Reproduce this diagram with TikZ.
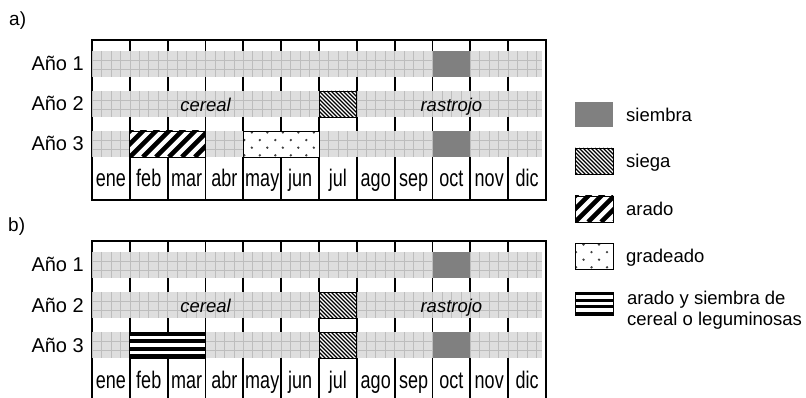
\documentclass[tikz,border=0pt]{standalone}
\usepackage{fontspec}
\setmainfont{Liberation Sans}
\usepackage{graphicx}
\def\mw{37.833}
\tikzset{
  boxline/.style={line width=2pt, draw=black},
  monthline/.style={line width=1.8pt, draw=black},
  bandfill/.style={fill=black!13},
  gridline/.style={draw=black!26, line width=0.6pt},
  actborder/.style={draw=black, line width=0.9pt},
  sowfill/.style={fill=black!50},
  dotcol/.style={fill=black!75},
  yearlbl/.style={anchor=base east, font=\fontsize{20}{24}\selectfont, inner sep=0pt},
  monthlbl/.style={anchor=base, font=\fontsize{24}{28}\selectfont, inner sep=0pt},
  croplbl/.style={anchor=base, font=\fontsize{18.5}{22}\selectfont\itshape, inner sep=0pt},
  leglbl/.style={anchor=base west, font=\fontsize{18.5}{21.5}\selectfont, inner sep=0pt, align=left},
  panellbl/.style={anchor=base west, font=\fontsize{19}{22}\selectfont, inner sep=0pt},
}
% gray week band
\newcommand\band[1]{%
  \fill[bandfill] (92,#1) rectangle (542,{#1+26});
  \foreach \i in {0,...,47} \draw[gridline] ({92+\i*\mw/4},#1) -- ({92+\i*\mw/4},{#1+26});
  \draw[gridline] (92,{#1+9.2}) -- (542,{#1+9.2});
  \draw[gridline] (92,{#1+18.2}) -- (542,{#1+18.2});
}
\newcommand\siega[4]{%
  \fill[white] (#1,#2) rectangle (#3,#4);
  \begin{scope}
    \clip (#1,#2) rectangle (#3,#4);
    \foreach \k in {-32,-28,...,48} \draw[line width=1.2pt] ({#1+\k},#2) -- ++(32,32);
  \end{scope}
  \draw[actborder] (#1,#2) rectangle (#3,#4);
}
\newcommand\arado[4]{%
  \fill[white] (#1,#2) rectangle (#3,#4);
  \begin{scope}
    \clip (#1,#2) rectangle (#3,#4);
    \foreach \k in {-39,-26,...,91} \draw[line width=4.6pt] ({#1+\k},#4) -- ++(32,-32);
  \end{scope}
  \draw[actborder] (#1,#2) rectangle (#3,#4);
}
\newcommand\gradeado[4]{%
  \fill[white] (#1,#2) rectangle (#3,#4);
  \begin{scope}
    \clip (#1,#2) rectangle (#3,#4);
    \foreach \r in {0,1,2,3} {
      \foreach \c in {0,...,5} \fill[dotcol] ({#1+8.5-mod(\r,2)*7.5+\c*15.5},{#2+1.5+\r*7.6}) circle (1.3pt);
    }
  \end{scope}
  \draw[actborder] (#1,#2) rectangle (#3,#4);
}
\newcommand\stripes[4]{%
  \fill[white] (#1,#2) rectangle (#3,#4);
  \pgfmathsetmacro\sh{(#4-#2)/7}
  \foreach \j in {0,2,4,6} \fill[black] (#1,{#2+\j*\sh}) rectangle (#3,{#2+(\j+1)*\sh});
  \draw[actborder] (#1,#2) rectangle (#3,#4);
}
\newcommand\siembra[2]{\fill[sowfill] (#1,#2) rectangle ({#1+\mw},{#2+26});}
\newcommand\panelframe[1]{%
  \foreach \i in {1,...,11} \draw[monthline] ({92+\i*\mw},0) -- ({92+\i*\mw},160);
  \draw[boxline] (92,0) rectangle (546,160);
  \foreach \t in {11,51,91} {\band{\t}}
  \node[yearlbl] (#1-y1) at (84,31) {Año 1};
  \node[yearlbl] (#1-y2) at (84,71) {Año 2};
  \node[yearlbl] (#1-y3) at (84,111) {Año 3};
  \foreach \m [count=\n from 0] in {ene,feb,mar,abr,may,jun,jul,ago,sep,oct,nov,dic}
    \node[monthlbl] (#1-\m) at ({92+(\n+0.5)*\mw},147) {\scalebox{0.75}[1]{\m}};
}
\begin{document}
\begin{tikzpicture}[x=1pt,y=-1pt]
\useasboundingbox (0,0) rectangle (806,398);
% panel a
\node[panellbl] (la) at (9,26) {a)};
\begin{scope}[shift={(0,40)}]
  \panelframe{a}
  \siembra{432.5}{11}
  \siega{319}{51}{356.8}{77}
  \arado{129.8}{91}{205.5}{117}
  \gradeado{243.3}{91}{319}{117}
  \siembra{432.5}{91}
  \node[croplbl] (a-cer) at (205.5,71.5) {cereal};
  \node[croplbl] (a-ras) at (451.4,71.5) {rastrojo};
\end{scope}
% panel b
\node[panellbl] (lb) at (8,232) {b)};
\begin{scope}[shift={(0,241)}]
  \panelframe{b}
  \siembra{432.5}{11}
  \siega{319}{51}{356.8}{77}
  \stripes{129.8}{91}{205.5}{117}
  \siega{319}{91}{356.8}{117}
  \siembra{432.5}{91}
  \node[croplbl] (b-cer) at (205.5,71.5) {cereal};
  \node[croplbl] (b-ras) at (451.4,71.5) {rastrojo};
\end{scope}
% legend
\fill[sowfill] (575,102) rectangle (613,127);
\node[leglbl] (l1) at (626,121.5) {siembra};
\siega{575}{148}{613}{174}
\node[leglbl] (l2) at (626,167.5) {siega};
\arado{575}{196}{613}{222}
\node[leglbl] (l3) at (626,215.5) {arado};
\gradeado{575}{243}{613}{269}
\node[leglbl] (l4) at (626,262.5) {gradeado};
\stripes{575}{292}{613}{315}
\node[leglbl] (l5) at (627,325.5) {arado y siembra de\\cereal o leguminosas};
\end{tikzpicture}
\end{document}
